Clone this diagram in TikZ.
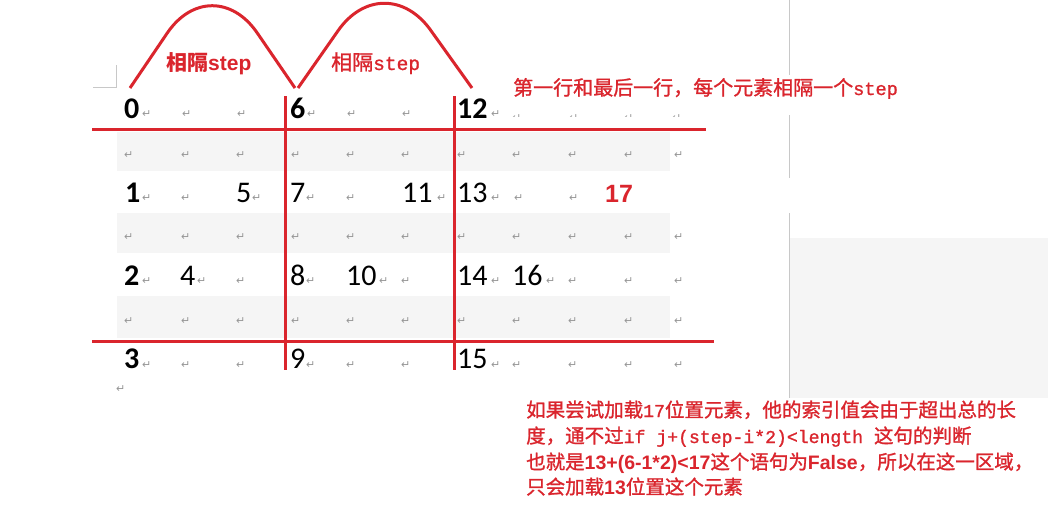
\documentclass[tikz,border=0pt]{standalone}
\usepackage{fontspec}
\setmainfont{Carlito}
\newfontfamily\cjk{Noto Sans CJK SC}
\newfontfamily\cjkm[FakeBold=1.2]{Noto Sans CJK SC}
\newfontfamily\monof[Scale=0.93,FakeBold=1.2]{Liberation Mono}
\newfontfamily\arialf{Liberation Sans}
\newfontfamily\symf{DejaVu Sans}
\definecolor{wred}{RGB}{218,37,45}
\definecolor{band}{RGB}{245,245,245}
\definecolor{pmark}{RGB}{150,150,150}
\definecolor{ruleg}{RGB}{200,200,200}
\tikzset{
  redline/.style={draw=wred, line width=3pt},
  arcline/.style={draw=wred, line width=3pt, rounded corners=80pt},
  num/.style={font=\fontsize{30}{36}\selectfont, inner sep=0pt, anchor=base west, text=black},
  bnum/.style={num, font=\fontsize{30}{36}\selectfont\bfseries},
  rnum/.style={inner sep=0pt, anchor=base west, text=wred, font=\arialf\bfseries\fontsize{25}{30}\selectfont},
  pm/.style={font=\symf\fontsize{11}{12}\selectfont, text=pmark, anchor=base west, inner sep=0pt},
  lbl/.style={inner sep=0pt, anchor=base west, text=wred, font=\fontsize{21}{25}\selectfont},
  note/.style={inner sep=0pt, anchor=base west, text=wred, font=\fontsize{20}{24}\selectfont},
  body/.style={inner sep=0pt, anchor=base west, text=wred, font=\fontsize{19.5}{23}\selectfont},
}
\begin{document}
\begin{tikzpicture}[x=1pt,y=-1pt]
\useasboundingbox (0,0) rectangle (1048,517);
\fill[white] (0,0) rectangle (1048,517);
% shaded bands
\fill[band] (117,132) rectangle (670,171);
\fill[band] (117,213) rectangle (670,253);
\fill[band] (117,296) rectangle (670,338);
\fill[band] (790,238) rectangle (1048,398);
% page decorations
\draw[ruleg, line width=1pt] (789,0) -- (789,75);
\draw[ruleg, line width=1pt] (789,115) -- (789,178);
\draw[ruleg, line width=1pt] (789,213) -- (789,398);
\draw[ruleg, line width=1pt] (93,87) -- (116,87) -- (116,65);
% paragraph marks
\foreach \x [count=\i] in {142,182,237,307,347,402,491}
  \node[pm] (m0-\i) at (\x,117) {↵};
\begin{scope}
\clip (500,100) rectangle (690,116);
\foreach \x [count=\i] in {512,569,624,672}
  \node[pm] (m0c-\i) at (\x,121) {↵};
\end{scope}
\foreach \y [count=\j] in {158,240,324}
  \foreach \x [count=\i] in {124,181,236,291,346,401,457,512,568,624,674}
    \node[pm] (mb\j-\i) at (\x,\y) {↵};
\foreach \x [count=\i] in {142,181,252,306,346,437,491,514,569}
  \node[pm] (m1-\i) at (\x,201) {↵};
\foreach \x [count=\i] in {142,197,236,306,379,401,491,546,568,624,674}
  \node[pm] (m3-\i) at (\x,284) {↵};
\foreach \x [count=\i] in {142,181,236,306,346,401,491,512,568,624,674}
  \node[pm] (m5-\i) at (\x,368) {↵};
\node[pm] (mend) at (116,392) {↵};
% numbers
\node[bnum] (n0) at (124,118) {0};
\node[bnum] (n6) at (290,118) {6};
\node[bnum] (n12) at (457,118) {12};
\node[bnum] (n1) at (125,202) {1};
\node[num] (n5) at (236,202) {5};
\node[num] (n7) at (290,202) {7};
\node[num] (n11) at (402,202) {11};
\node[num] (n13) at (457,202) {13};
\node[rnum] (n17) at (605,202) {17};
\node[bnum] (n2) at (124,285) {2};
\node[num] (n4) at (180,285) {4};
\node[num] (n8) at (290,285) {8};
\node[num] (n10) at (346,285) {10};
\node[num] (n14) at (457,285) {14};
\node[num] (n16) at (512,285) {16};
\node[bnum] (n3) at (124,368) {3};
\node[num] (n9) at (290,368) {9};
\node[num] (n15) at (457,368) {15};
% red rules
\coordinate (h1l) at (92,129); \coordinate (h1r) at (706,129);
\coordinate (h2l) at (92,341); \coordinate (h2r) at (714,341);
\coordinate (v1t) at (285,96); \coordinate (v1b) at (285,370);
\coordinate (v2t) at (454,96); \coordinate (v2b) at (454,370);
\draw[redline] (h1l) -- (h1r);
\draw[redline] (h2l) -- (h2r);
\draw[redline] (v1t) -- (v1b);
\draw[redline] (v2t) -- (v2b);
% arcs
\coordinate (a1s) at (130,88); \coordinate (a1p) at (212,-33); \coordinate (a1e) at (295,88);
\coordinate (a2s) at (298,88); \coordinate (a2p) at (384,-35); \coordinate (a2e) at (472,88);
\draw[arcline] (a1s) -- (a1p) -- (a1e);
\draw[arcline] (a2s) -- (a2p) -- (a2e);
% labels
\node[lbl] (l1) at (166,70) {{\cjk\bfseries 相隔}{\arialf\bfseries step}};
\node[lbl] (l2) at (331,70) {{\cjkm 相隔}{\monof step}};
\node[note] (t1) at (513,95) {{\cjkm 第一行和最后一行，每个元素相隔一个}{\monof step}};
\node[body] (b1) at (526,417) {{\cjkm 如果尝试加载}{\monof 17}{\cjkm 位置元素，他的索引值会由于超出总的长}};
\node[body] (b2) at (526,443) {{\cjkm 度，通不过}{\monof if j+(step-i*2)<length\ }{\cjkm 这句的判断}};
\node[body] (b3) at (526,469) {{\cjkm 也就是}{\arialf\bfseries 13+(6-1*2)<17}{\cjkm 这个语句为}{\arialf\bfseries False}{\cjkm ，所以在这一区域，}};
\node[body] (b4) at (526,494) {{\cjkm 只会加载}{\arialf\bfseries 13}{\cjkm 位置这个元素}};
\end{tikzpicture}
\end{document}
